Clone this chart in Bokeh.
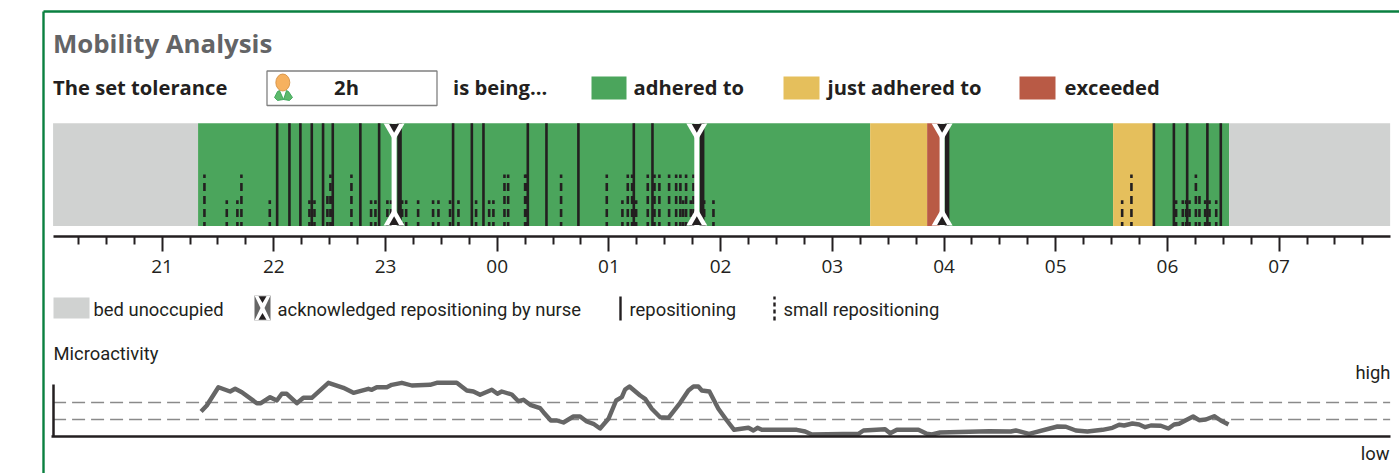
from bokeh.plotting import figure
from bokeh.models import Range1d, LinearAxis, FixedTicker
from bokeh.core.properties import value
from bokeh.embed import file_html
from bokeh.resources import INLINE

# ---- data: all times are hours after 21:00 ----
hour_labels = ["21", "22", "23", "00", "01", "02", "03", "04", "05", "06", "07"]
state_starts = [-0.976, 0.322, 6.339, 6.849, 6.965, 8.514, 8.873, 9.553]
state_ends = [0.322, 6.339, 6.849, 6.965, 8.514, 8.873, 9.553, 10.994]
state_names = ["none", "ok", "just", "over", "ok", "just", "ok", "none"]

reposition_times = [1.030, 1.140, 1.238, 1.340, 1.441, 1.528, 1.775, 1.943, 2.605, 2.773, 2.877,
                    3.274, 3.441, 3.727, 4.223, 4.390, 8.879, 9.058, 9.177, 9.358, 9.478]
nurse_times = [2.077, 4.787, 6.983]
nurse_reposition_times = [2.126, 4.835, 7.028]

small_times = [.379, .579, .674, .710, .964, 1.319, 1.364, 1.480, 1.507, 1.525, 1.695, 1.871, 1.910,
               2.017, 2.050, 2.149, 2.185, 2.292, 2.426, 2.474, 2.578, 2.653, 2.811, 2.928, 2.966,
               3.065, 3.098, 3.250, 3.263, 3.572, 3.981, 4.121, 4.169, 4.208, 4.244, 4.348, 4.408,
               4.452, 4.539, 4.602, 4.640, 4.665, 4.691, 4.733, 4.757, 4.853, 4.936,
               8.595, 8.678, 9.078, 9.138, 9.168, 9.198, 9.255, 9.287, 9.338, 9.377, 9.437]
small_sizes = [.5, .25, .25, .5, .25, .25, .25, .3, .5, .3, .5, .25, .25,
               .25, .25, .25, .25, .25, .25, .25, .25, .25, .25, .25, .25,
               .5, .5, .5, .5, .5, .5, .25, .5, .5, .25, .5, .5,
               .5, .5, .5, .5, .25, .5, .25, .5, .25, .25,
               .25, .5, .25, .25, .25, .25, .5, .3, .25, .25, .25]

activity_times = [.349, .400, .504, .609, .654, .714, .848, .884, .967, 1.027, 1.072, 1.116, 1.206, 1.265,
                  1.340, 1.489, 1.623, 1.713, 1.847, 1.877, 1.922, 2.012, 2.056, 2.146, 2.236, 2.399,
                  2.459, 2.638, 2.728, 2.787, 2.847, 2.952, 3.002, 3.041, 3.131, 3.190, 3.235, 3.295,
                  3.384, 3.414, 3.480, 3.534, 3.593, 3.682, 3.742, 3.802, 3.861, 3.921, 3.996, 4.065,
                  4.116, 4.145, 4.184, 4.280, 4.324, 4.384, 4.459, 4.533, 4.638, 4.712, 4.757, 4.801,
                  4.832, 4.900, 4.980, 5.056, 5.121, 5.249, 5.294, 5.330, 5.369, 5.682, 5.757, 5.817,
                  6.234, 6.279, 6.473, 6.518, 6.578, 6.771, 6.846, 6.891, 6.965, 7.404, 7.598, 7.643,
                  7.762, 8.016, 8.091, 8.180, 8.284, 8.419, 8.508, 8.568, 8.613, 8.687, 8.747, 8.801,
                  8.852, 8.941, 9.009, 9.060, 9.105, 9.230, 9.284, 9.344, 9.419, 9.478, 9.547]
activity_values = [25, 31, 49.3, 45, 47.7, 44.3, 33.3, 33.3, 39.3, 36, 42.7, 42.7, 33.3, 38.7,
                   38.7, 53.7, 48.7, 43.7, 47.7, 46.7, 49.3, 49.3, 51.7, 53.7, 51, 51.7,
                   53.7, 53.7, 46, 45, 41.7, 46.7, 42.7, 45, 42, 35.3, 36.7, 31.7,
                   28.3, 24.3, 16, 16, 14, 20, 20, 15, 12.7, 8, 17.7, 36,
                   39.3, 47, 50, 41, 37.7, 27.7, 19.3, 18.7, 33.7, 46, 50, 50,
                   46, 45, 27.7, 16, 6.7, 8.7, 6, 8.7, 6.7, 6.7, 5, 2,
                   2.7, 6, 7.3, 3.3, 6.7, 6.7, 2.7, 2, 4, 5.3, 5, 6,
                   2.7, 10, 9.7, 6, 5, 6.7, 8.7, 11.7, 11, 13, 12, 9.3,
                   11, 10.7, 8, 12, 12.7, 20, 16.3, 17, 20.3, 16, 12]
activity_thresholds = [17, 34]

# ---- layout ----
W, H = 1399, 473
PX_PER_HOUR = 111.7
ZERO_PX = 161.6
T0, T1 = state_starts[0], state_ends[-1]
FONT = "Roboto"
BOLD_FONT = "Open Sans"
INK = "#231f20"
STATE_COLORS = {"none": "#d0d2d1", "ok": "#4ba55c", "just": "#e5bf5c", "over": "#b95a45"}


def X(px):
    return (px - ZERO_PX) / PX_PER_HOUR


p = figure(width=W, height=H, output_backend="svg", toolbar_location=None,
           x_range=Range1d(X(0), X(W)), y_range=Range1d(H, 0),
           x_axis_type=None, y_axis_type=None, min_border=0, outline_line_color=None,
           background_fill_color="white", border_fill_color="white")
p.grid.visible = False
p.extra_y_ranges = {
    # track: 0 = bottom of the band, 1 = top of the band
    "track": Range1d((225.4 - H) / 102.6, 225.4 / 102.6),
    "activity": Range1d(436 - H, 436),
}

# frame
p.segment(x0=[X(43), X(43)], y0=[11, 11], x1=[X(1399), X(43)], y1=[11, H],
          line_color="#0a8040", line_width=2.4)

# state band
p.quad(left=state_starts, right=state_ends, bottom=[0] * 8, top=[1] * 8,
       fill_color=[STATE_COLORS[s] for s in state_names], line_color=None, y_range_name="track")

# small repositioning
p.segment(x0=small_times, x1=small_times, y0=[0] * len(small_times), y1=small_sizes, y_range_name="track",
          line_color=INK, line_width=2.6, line_dash="8 5", line_dash_offset=4)
# repositioning
p.segment(x0=reposition_times, x1=reposition_times, y0=[0] * len(reposition_times), y1=[1] * len(reposition_times),
          y_range_name="track", line_color=INK, line_width=2.6)
p.segment(x0=nurse_reposition_times, x1=nurse_reposition_times, y0=[0] * 3, y1=[1] * 3,
          y_range_name="track", line_color=INK, line_width=4.5)
# acknowledged by nurse
p.segment(x0=nurse_times, x1=nurse_times, y0=[0] * 3, y1=[1] * 3, y_range_name="track",
          line_color="white", line_width=5)
p.scatter(nurse_times, [129] * 3, marker="inverted_triangle", size=21, fill_color="white", line_color=None)
p.scatter(nurse_times, [219] * 3, marker="triangle", size=21, fill_color="white", line_color=None)
p.scatter(nurse_times, [126.5] * 3, marker="inverted_triangle", size=10, fill_color=INK, line_color=None)
p.scatter(nurse_times, [221.5] * 3, marker="triangle", size=10, fill_color=INK, line_color=None)

# time axis
time_axis = LinearAxis(
    ticker=FixedTicker(ticks=list(range(11)),
                       minor_ticks=[i * 0.25 for i in range(-3, 44) if i % 4]),
    major_label_overrides={i: t for i, t in enumerate(hour_labels)},
    bounds=(T0, T1), fixed_location=236,
    axis_line_color=INK, axis_line_width=2.5,
    major_tick_line_color=INK, major_tick_line_width=2, major_tick_out=15, major_tick_in=0,
    minor_tick_line_color=INK, minor_tick_line_width=2, minor_tick_out=8, minor_tick_in=0,
    major_label_text_font="Open Sans", major_label_text_font_size="19px", major_label_text_color=INK,
    major_label_standoff=8)
p.add_layout(time_axis, "below")

# microactivity
p.segment(x0=[T0] * 2, x1=[T1] * 2, y0=activity_thresholds, y1=activity_thresholds, y_range_name="activity",
          line_color="#8a8a8a", line_width=1.3, line_dash="13 6")
p.line(activity_times, activity_values, y_range_name="activity", line_color="#666666", line_width=4.4,
       line_join="round")
base_axis = LinearAxis(ticker=FixedTicker(ticks=[]), bounds=(T0 - 0.01, T1), fixed_location=436,
                       axis_line_color=INK, axis_line_width=2.5, major_label_text_font_size="0px")
p.add_layout(base_axis, "below")
level_axis = LinearAxis(y_range_name="activity", ticker=FixedTicker(ticks=[]), bounds=(0, 52), fixed_location=T0,
                        axis_line_color=INK, axis_line_width=2.5, major_label_text_font_size="0px")
p.add_layout(level_axis, "left")


# texts
def label(px, py, text, size, color=INK, weight="normal", align="left", font=None):
    p.text([X(px)], [py], text=[text], text_font=value(font or FONT), text_font_size=f"{size}px",
           text_color=color, text_font_style=weight, text_align=align, text_baseline="middle")


label(52.5, 42.5, "Mobility Analysis", 25.8, "#636466", "bold", font=BOLD_FONT)
label(52.5, 86.5, "The set tolerance", 20.2, INK, "bold", font=BOLD_FONT)
p.quad(left=[X(266.5)], right=[X(436.5)], top=[70.5], bottom=[105], fill_color="white", line_color="#808080",
       line_width=1.3)
label(346, 86.5, "2h", 20.2, INK, "bold", "center", BOLD_FONT)
label(452.5, 86.5, "is being…", 20.2, INK, "bold", font=BOLD_FONT)
p.quad(left=[X(591), X(783), X(1019)], right=[X(626), X(819), X(1055)], top=[76] * 3, bottom=[99] * 3,
       fill_color=[STATE_COLORS["ok"], STATE_COLORS["just"], STATE_COLORS["over"]], line_color=None)
label(633, 86.5, "adhered to", 20.2, INK, "bold", font=BOLD_FONT)
label(827, 86.5, "just adhered to", 20.2, INK, "bold", font=BOLD_FONT)
label(1064, 86.5, "exceeded", 20.2, INK, "bold", font=BOLD_FONT)

# person icon
p.patches(xs=[[X(274), X(277), X(279), X(283), X(277)], [X(283), X(286), X(288), X(292), X(289)]],
          ys=[[97, 91, 90, 99, 100], [99, 90, 91, 97, 100]],
          fill_color="#5db96b", line_color="#2f9e4f", line_width=0.8)
p.ellipse([X(282.3)], [82], width=14, height=17, width_units="screen", height_units="screen",
          fill_color="#f6b15f", line_color="#d08a3a", line_width=0.8)

# legend
p.quad(left=[X(53)], right=[X(89)], top=[297], bottom=[318], fill_color=STATE_COLORS["none"], line_color=None)
label(93, 308.5, "bed unoccupied", 18.4)
p.quad(left=[X(254)], right=[X(270)], top=[295], bottom=[320], fill_color="#666666", line_color=None)
p.patch([X(254), X(270), X(264), X(270), X(254), X(260)], [295, 295, 307.5, 320, 320, 307.5], fill_color="white",
        line_color=None)
p.scatter([X(262)], [298], marker="inverted_triangle", size=8, fill_color=INK, line_color=None)
p.scatter([X(262)], [317], marker="triangle", size=8, fill_color=INK, line_color=None)
label(277, 308.5, "acknowledged repositioning by nurse", 18.4)
p.segment(x0=[X(620)], x1=[X(620)], y0=[296], y1=[320], line_color=INK, line_width=2.4)
label(629, 308.5, "repositioning", 18.4)
p.segment(x0=[X(774)], x1=[X(774)], y0=[320], y1=[296], line_color=INK, line_width=2.4, line_dash="4 3")
label(783, 308.5, "small repositioning", 18.4)
label(53, 352.5, "Microactivity", 18.4)
label(1390, 371.5, "high", 18.4, align="right")
label(1389, 452.5, "low", 18.4, align="right")

open("out.html", "w").write(file_html(p, INLINE))
